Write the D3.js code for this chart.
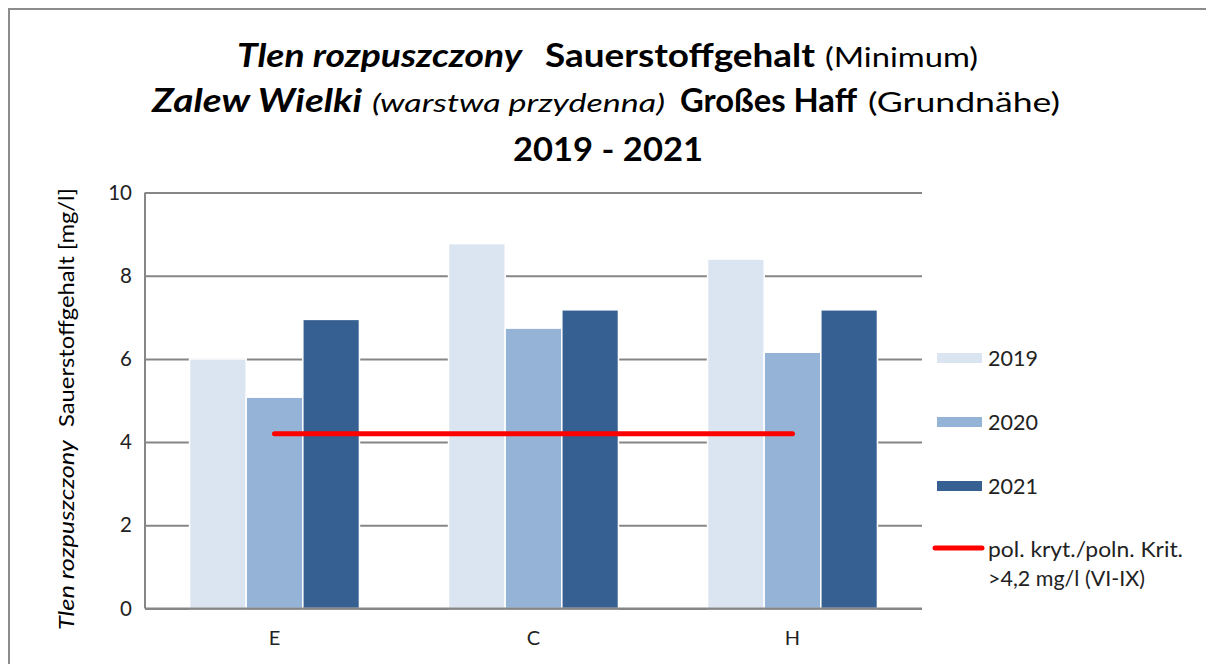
<!DOCTYPE html>
<html>
<head>
<meta charset="utf-8">
<script src="https://cdn.jsdelivr.net/npm/d3@7"></script>
<style>
  body { margin: 0; background: #fff; }
  svg { font-family: Lato, "Open Sans", sans-serif; }
</style>
</head>
<body>
<div id="chart"></div>
<script>
// data
const stations = ["E", "C", "H"];
const years = ["2019", "2020", "2021"];
const values2019 = [6.0, 8.77, 8.4];
const values2020 = [5.08, 6.74, 6.16];
const values2021 = [6.95, 7.18, 7.18];
const criterion = [4.2, 4.2, 4.2];
const yTicks = [0, 2, 4, 6, 8, 10];
const colors = ["#dbe4f1", "#95b3d7", "#366092"];

const seriesValues = [values2019, values2020, values2021];
const data = stations.map((s, i) => ({
  station: s,
  vals: years.map((y, j) => ({ year: y, value: seriesValues[j][i], color: colors[j] }))
}));

var margin = { top: 192.5, left: 145 },
  width = 922 - 145,
  height = 608.5 - 192.5;

var svg0 = d3.select("#chart").append("svg")
  .attr("width", 1206)
  .attr("height", 664);

// chart frame
svg0.append("rect")
  .attr("x", 9).attr("y", 9)
  .attr("width", 1250).attr("height", 700)
  .attr("fill", "#fff")
  .attr("stroke", "#8c8c8c")
  .attr("stroke-width", 2);

// text piece stretched to the width it has in the picture
function piece(parent, x, y, w, size, weight, style, txt) {
  return parent.append("text")
    .attr("x", x).attr("y", y)
    .attr("textLength", w)
    .attr("lengthAdjust", "spacingAndGlyphs")
    .style("font-size", size + "px")
    .style("font-weight", weight)
    .style("font-style", style)
    .attr("fill", "#000")
    .text(txt);
}

// title
var title = svg0.append("g");
piece(title, 237, 67, 285, 31.5, "bold", "italic", "Tlen rozpuszczony");
piece(title, 545, 67, 270, 31.5, "bold", "normal", "Sauerstoffgehalt");
piece(title, 825, 67, 153, 27, "normal", "normal", "(Minimum)");
piece(title, 152, 112, 210, 31.5, "bold", "italic", "Zalew Wielki");
piece(title, 372, 112, 293, 25, "normal", "italic", "(warstwa przydenna)");
piece(title, 680, 112, 177, 31.5, "bold", "normal", "Großes Haff");
piece(title, 868, 112, 192, 27, "normal", "normal", "(Grundnähe)");
piece(title, 513, 161, 190, 31.5, "bold", "normal", "2019 - 2021");

var svg = svg0.append("g")
  .attr("transform", "translate(" + margin.left + "," + margin.top + ")");

var x0 = d3.scaleBand().domain(stations).range([0, width])
  .paddingInner(0.344).paddingOuter(0.172);
var x1 = d3.scaleBand().domain(years).range([0, x0.bandwidth()]);
var y = d3.scaleLinear().domain([0, 10]).range([height, 0]);

// gridlines
svg.append("g")
  .attr("class", "grid")
  .call(d3.axisLeft(y).tickValues(yTicks).tickSize(-width).tickFormat(""))
  .call((g) => g.select(".domain").remove())
  .call((g) => g.selectAll("line").attr("stroke", "#868686").attr("stroke-width", 2));

// bars
svg.selectAll(".group")
  .data(data)
  .enter()
  .append("g")
  .attr("class", "group")
  .attr("transform", (d) => "translate(" + x0(d.station) + ",0)")
  .selectAll("rect")
  .data((d) => d.vals)
  .enter()
  .append("rect")
  .attr("x", (d) => x1(d.year))
  .attr("width", x1.bandwidth())
  .attr("y", (d) => y(d.value))
  .attr("height", (d) => height - y(d.value))
  .attr("fill", (d) => d.color)
  .attr("stroke", "#fff")
  .attr("stroke-width", 1.5);

// axes lines
svg.append("line").attr("x1", 0).attr("x2", 0).attr("y1", 0).attr("y2", height)
  .attr("stroke", "#868686").attr("stroke-width", 2);
svg.append("line").attr("x1", 0).attr("x2", width).attr("y1", height).attr("y2", height)
  .attr("stroke", "#868686").attr("stroke-width", 2);

// y tick labels
svg.append("g")
  .call(d3.axisLeft(y).tickValues(yTicks).tickSize(0).tickPadding(13))
  .call((g) => g.select(".domain").remove())
  .selectAll("text")
  .style("font-family", "Lato, sans-serif")
  .style("font-size", "20.5px")
  .attr("fill", "#222");

// x labels
svg.append("g")
  .attr("transform", "translate(0," + height + ")")
  .call(d3.axisBottom(x0).tickSize(0).tickPadding(22))
  .call((g) => g.select(".domain").remove())
  .selectAll("text")
  .style("font-family", "Lato, sans-serif")
  .style("font-size", "20px")
  .attr("fill", "#222");

// criterion line
var line = d3.line()
  .x((d, i) => x0(stations[i]) + x0.bandwidth() / 2)
  .y((d) => y(d));
svg.append("path")
  .datum(criterion)
  .attr("fill", "none")
  .attr("stroke", "#ff0000")
  .attr("stroke-width", 5)
  .attr("stroke-linecap", "round")
  .attr("d", line);

// y axis title
var yl = svg0.append("g").attr("transform", "translate(74,0) rotate(-90)");
piece(yl, -630, 0, 190, 22, "normal", "italic", "Tlen rozpuszczony");
piece(yl, -427, 0, 239, 22, "normal", "normal", "Sauerstoffgehalt [mg/l]");

// legend
var legendY = [358, 422, 486];
var legend = svg0.append("g");
years.forEach((yr, i) => {
  legend.append("rect")
    .attr("x", 937).attr("y", legendY[i] - 5)
    .attr("width", 45).attr("height", 10)
    .attr("fill", colors[i]);
  legend.append("text")
    .attr("x", 988).attr("y", legendY[i])
    .attr("dy", "0.35em")
    .style("font-size", "21.5px")
    .attr("fill", "#222")
    .text(yr);
});
legend.append("line")
  .attr("x1", 935).attr("x2", 982).attr("y1", 548).attr("y2", 548)
  .attr("stroke", "#ff0000").attr("stroke-width", 5).attr("stroke-linecap", "round");
piece(legend, 988, 557, 195, 21.5, "normal", "normal", "pol. kryt./poln. Krit.").attr("fill", "#222");
piece(legend, 988, 586, 157, 21.5, "normal", "normal", ">4,2 mg/l (VI-IX)").attr("fill", "#222");
</script>
</body>
</html>
